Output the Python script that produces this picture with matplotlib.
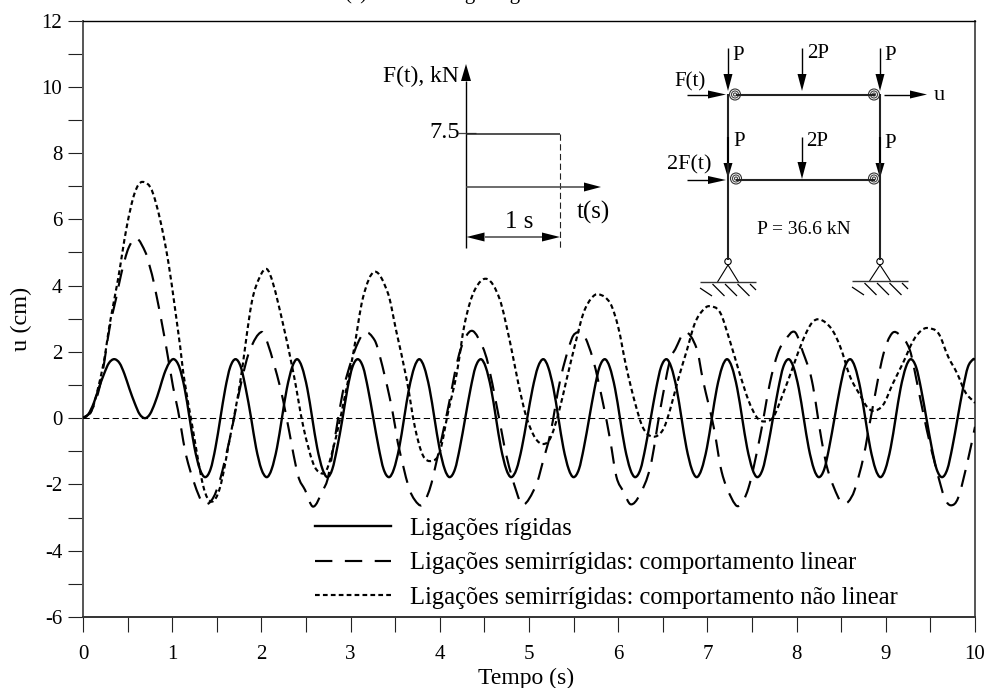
import matplotlib
matplotlib.use("Agg")
import matplotlib.pyplot as plt
from matplotlib.lines import Line2D
from matplotlib.patches import Polygon, Circle, PathPatch
from matplotlib.path import Path

plt.rcParams['font.family'] = ['Liberation Serif', 'DejaVu Serif']
plt.rcParams['axes.unicode_minus'] = False
plt.rcParams['lines.scale_dashes'] = False

x_label = "Tempo (s)"
y_label = "u (cm)"
legend_labels = ["Ligações rígidas",
                 "Ligações semirrígidas: comportamento linear",
                 "Ligações semirrígidas: comportamento não linear"]

t_rigid = [0, 0.06, 0.12, 0.175, 0.235, 0.29, 0.35, 0.41, 0.465, 0.52, 0.58, 0.635, 0.695,
           0.75, 0.805, 0.86, 0.91, 0.965, 1.02,
           1.08, 1.14, 1.195, 1.25, 1.31, 1.37,
           1.43, 1.485, 1.54, 1.595, 1.65, 1.71,
           1.77, 1.825, 1.885, 1.94, 2.0, 2.06,
           2.115, 2.175, 2.23, 2.285, 2.345, 2.40,
           2.455, 2.515, 2.57, 2.625, 2.685, 2.74,
           2.795, 2.85, 2.91, 2.965, 3.02, 3.08,
           3.14, 3.195, 3.255, 3.315, 3.37, 3.43,
           3.485, 3.545, 3.60, 3.655, 3.715, 3.77,
           3.825, 3.885, 3.94, 3.995, 4.055, 4.11,
           4.17, 4.225, 4.285, 4.345, 4.40, 4.46,
           4.515, 4.575, 4.63, 4.685, 4.745, 4.80,
           4.86, 4.92, 4.98, 5.04, 5.10, 5.16,
           5.215, 5.275, 5.33, 5.385, 5.445, 5.50,
           5.56, 5.615, 5.675, 5.735, 5.79, 5.85,
           5.905, 5.965, 6.02, 6.075, 6.135, 6.19,
           6.25, 6.305, 6.365, 6.425, 6.48, 6.54,
           6.595, 6.655, 6.71, 6.765, 6.825, 6.88,
           6.935, 6.995, 7.05, 7.105, 7.165, 7.22,
           7.275, 7.335, 7.39, 7.445, 7.505, 7.56,
           7.62, 7.675, 7.735, 7.795, 7.85, 7.91,
           7.965, 8.025, 8.08, 8.135, 8.195, 8.25,
           8.31, 8.365, 8.425, 8.485, 8.54, 8.60,
           8.655, 8.715, 8.77, 8.825, 8.885, 8.94,
           8.995, 9.055, 9.11, 9.165, 9.225, 9.28,
           9.34, 9.395, 9.455, 9.515, 9.57, 9.63,
           9.69, 9.745, 9.805, 9.865, 9.92, 9.98, 10]
u_rigid = [0, 0.12, 0.45, 0.89, 1.33, 1.66, 1.78, 1.66, 1.33, 0.89, 0.45, 0.12, 0,
           0.12, 0.45, 0.89, 1.33, 1.66, 1.78,
           1.54, 0.89, 0, -0.89, -1.54, -1.78,  # 1.37
           -1.54, -0.89, 0, 0.89, 1.54, 1.78,  # 1.71
           1.54, 0.89, 0, -0.89, -1.54, -1.78,  # 2.06
           -1.54, -0.89, 0, 0.89, 1.54, 1.78,  # 2.40
           1.54, 0.89, 0, -0.89, -1.54, -1.78,  # 2.74
           -1.54, -0.89, 0, 0.89, 1.54, 1.78,  # 3.08
           1.54, 0.89, 0, -0.89, -1.54, -1.78,  # 3.43
           -1.54, -0.89, 0, 0.89, 1.54, 1.78,  # 3.77
           1.54, 0.89, 0, -0.89, -1.54, -1.78,  # 4.11
           -1.54, -0.89, 0, 0.89, 1.54, 1.78,  # 4.46
           1.54, 0.89, 0, -0.89, -1.54, -1.78,  # 4.80
           -1.54, -0.89, 0, 0.89, 1.54, 1.78,  # 5.16
           1.54, 0.89, 0, -0.89, -1.54, -1.78,  # 5.50
           -1.54, -0.89, 0, 0.89, 1.54, 1.78,  # 5.85
           1.54, 0.89, 0, -0.89, -1.54, -1.78,  # 6.19
           -1.54, -0.89, 0, 0.89, 1.54, 1.78,  # 6.54
           1.54, 0.89, 0, -0.89, -1.54, -1.78,  # 6.88
           -1.54, -0.89, 0, 0.89, 1.54, 1.78,  # 7.22
           1.54, 0.89, 0, -0.89, -1.54, -1.78,  # 7.56
           -1.54, -0.89, 0, 0.89, 1.54, 1.78,  # 7.91
           1.54, 0.89, 0, -0.89, -1.54, -1.78,  # 8.25
           -1.54, -0.89, 0, 0.89, 1.54, 1.78,  # 8.60
           1.54, 0.89, 0, -0.89, -1.54, -1.78,  # 8.94
           -1.54, -0.89, 0, 0.89, 1.54, 1.78,  # 9.28
           1.54, 0.89, 0, -0.89, -1.54, -1.78,  # 9.63
           -1.54, -0.89, 0, 0.89, 1.54, 1.78, 1.77]  # 9.98, 10

t_linear = [0, 0.1, 0.2, 0.3, 0.37, 0.43, 0.51, 0.60, 0.706, 0.75, 0.796, 0.92, 1.01, 1.065, 1.16, 1.31, 1.38,
            1.46, 1.535, 1.65, 1.78, 1.87, 2.0, 2.07, 2.21, 2.28, 2.41, 2.49, 2.58, 2.69, 2.75, 2.91, 3.01,
            3.08, 3.16, 3.27, 3.33, 3.44, 3.5, 3.53, 3.65, 3.72, 3.8, 3.87, 3.92, 4.08, 4.2, 4.28, 4.37,
            4.48, 4.54, 4.64, 4.75, 4.86, 4.93, 5.08, 5.16, 5.24, 5.35, 5.48, 5.55, 5.61, 5.72, 5.83, 5.91,
            5.98, 6.06, 6.14, 6.24, 6.36, 6.47, 6.58, 6.64, 6.75, 6.88, 6.95, 7.07, 7.16, 7.27, 7.35, 7.46,
            7.59, 7.7, 7.79, 7.87, 7.98, 8.07, 8.17, 8.28, 8.35, 8.47, 8.52, 8.58, 8.65, 8.75, 8.84, 8.97,
            9.07, 9.16, 9.27, 9.36, 9.46, 9.57, 9.66, 9.73, 9.81, 9.92, 10]
u_linear = [0, 0.25, 1.1, 2.75, 3.6, 4.37, 5.13, 5.43, 4.97, 4.56, 4.07, 2.35, 0.94, 0.24, -1.17, -2.41, -2.6,
            -2.4, -1.87, -0.56, 1.15, 2.05, 2.6, 2.26, 0.94, 0.04, -1.72, -2.17, -2.67, -2.17, -1.75, 0.75, 1.75,
            2.26, 2.6, 2.35, 1.85, 0.6, -0.26, -0.75, -2.07, -2.47, -2.63, -2.27, -1.82, 0.14, 1.75, 2.4, 2.63,
            2.15, 1.65, 0.34, -1.17, -2.22, -2.63, -2.02, -1.27, -0.46, 1.15, 2.4, 2.6, 2.55, 1.75, 0.45, -0.66,
            -1.77, -2.22, -2.6, -2.32, -1.47, 0.24, 1.75, 2.08, 2.6, 2.1, 1.15, -0.26, -1.62, -2.41, -2.65, -2.11,
            -0.56, 1.05, 1.96, 2.35, 2.6, 2.0, 1.15, -0.66, -1.57, -2.41, -2.57, -2.52, -2.17, -1.17, 0.14, 1.9,
            2.56, 2.5, 2.05, 0.94, -0.36, -1.57, -2.41, -2.63, -2.41, -1.27, -0.26]

t_nonlinear = [0, 0.1, 0.23, 0.30, 0.39, 0.49, 0.58, 0.665, 0.785, 0.94, 1.09, 1.125, 1.22, 1.35, 1.44, 1.535, 1.65,
               1.76, 1.89, 1.98, 2.06, 2.13, 2.24, 2.36, 2.47, 2.58, 2.66, 2.73, 2.82, 2.92, 3.03, 3.14, 3.27,
               3.42, 3.51, 3.63, 3.72, 3.81, 3.91, 4.0, 4.09, 4.19, 4.28, 4.39, 4.53, 4.67, 4.79, 4.88, 4.97,
               5.07, 5.16, 5.24, 5.33, 5.42, 5.52, 5.61, 5.7, 5.78, 5.91, 6.0, 6.09, 6.19, 6.28, 6.39, 6.5,
               6.58, 6.67, 6.77, 6.86, 6.95, 7.02, 7.14, 7.25, 7.35, 7.46, 7.55, 7.63, 7.74, 7.85, 7.96, 8.07,
               8.17, 8.26, 8.39, 8.49, 8.6, 8.71, 8.79, 8.86, 8.97, 9.08, 9.19, 9.31, 9.4, 9.47, 9.59, 9.7,
               9.8, 9.89, 10]
u_nonlinear = [0, 0.25, 1.65, 2.85, 4.15, 5.77, 6.8, 7.13, 6.78, 4.97, 2.15, 1.35, -0.16, -2.07, -2.52, -2.1, -0.56,
               1.05, 3.47, 4.25, 4.5, 4.07, 2.87, 1.35, -0.26, -1.36, -1.65, -1.57, -0.75, 0.45, 1.96, 3.65, 4.42,
               3.76, 2.65, 1.15, -0.26, -1.12, -1.29, -1.02, 0.14, 1.35, 2.87, 3.86, 4.2, 3.6, 2.26, 1.05, 0.04,
               -0.6, -0.78, -0.6, 0.14, 1.15, 2.26, 3.17, 3.62, 3.74, 3.47, 2.75, 1.55, 0.45, -0.3, -0.56, -0.36,
               0.24, 1.15, 2.05, 2.87, 3.26, 3.38, 3.2, 2.35, 1.45, 0.54, 0.04, -0.1, 0.04, 0.75, 1.55, 2.35,
               2.87, 2.98, 2.7, 2.15, 1.25, 0.7, 0.34, 0.22, 0.4, 1.05, 1.65, 2.35, 2.65, 2.72, 2.56, 1.85,
               1.35, 0.79, 0.46]

W, H = 987, 688
fig = plt.figure(figsize=(W / 100, H / 100), dpi=100, facecolor='white')
L, R, T, B = 83, 975, 20.5, 617
ax = fig.add_axes([L / W, 1 - B / H, (R - L) / W, (B - T) / H])
ax.set_xlim(0, 10)
ax.set_ylim(-6, 12)

FS = 15
LW_SOLID = 1.7
LW_DASH = 1.55
DASH_LONG = (0, (12.5, 7.5))
DASH_SHORT = (0, (3.4, 2.3))


def smooth_curve(ts, us, **kw):
    """Draw the read values as one cubic Bezier path through every read value."""
    n = len(ts)
    slopes = []
    for i in range(n):
        a, b = max(i - 1, 0), min(i + 1, n - 1)
        slopes.append((us[b] - us[a]) / (ts[b] - ts[a]))
    verts = [(ts[0], us[0])]
    codes = [Path.MOVETO]
    for i in range(n - 1):
        h = (ts[i + 1] - ts[i]) / 3
        verts += [(ts[i] + h, us[i] + slopes[i] * h),
                  (ts[i + 1] - h, us[i + 1] - slopes[i + 1] * h),
                  (ts[i + 1], us[i + 1])]
        codes += [Path.CURVE4] * 3
    patch = PathPatch(Path(verts, codes), fc='none', ec='black', capstyle='butt', joinstyle='round', **kw)
    ax.add_patch(patch)


ax.axhline(0, color='black', lw=0.75, ls=(0, (4.5, 2.5)), zorder=1)
smooth_curve(t_rigid, u_rigid, lw=LW_SOLID, zorder=3)
smooth_curve(t_linear, u_linear, lw=LW_DASH, ls=DASH_LONG, zorder=3)
smooth_curve(t_nonlinear, u_nonlinear, lw=LW_DASH, ls=DASH_SHORT, zorder=3)

ax.set_xticks(range(0, 11))
ax.set_xticks([i + 0.5 for i in range(10)], minor=True)
ax.set_yticks(range(-6, 13, 2))
ax.set_yticks(range(-5, 12, 2), minor=True)
ax.tick_params(axis='both', which='both', direction='out', length=11, width=0.8, color='#222222')
ax.tick_params(axis='x', which='major', labelsize=FS, pad=9)
ax.tick_params(axis='y', which='major', labelsize=FS, pad=4)
for s in ax.spines.values():
    s.set_linewidth(1.0)
ax.spines['left'].set_color('#555555')
ax.spines['left'].set_linewidth(1.4)
ax.spines['right'].set_color('#555555')
ax.spines['right'].set_linewidth(1.4)
ax.spines['bottom'].set_color('#333333')
ax.spines['bottom'].set_linewidth(1.4)
ax.set_xlabel(x_label, fontsize=17, labelpad=3, x=(526 - L) / (R - L))
ax.set_ylabel(y_label, fontsize=17.5, labelpad=7)

handles = [Line2D([], [], color='black', lw=LW_SOLID),
           Line2D([], [], color='black', lw=LW_DASH, ls=(0, (12.5, 9))),
           Line2D([], [], color='black', lw=LW_DASH, ls=DASH_SHORT)]
leg = ax.legend(handles, legend_labels, loc='lower left',
                bbox_to_anchor=((315 - L) / (R - L), (B - 609) / (B - T)),
                frameon=False, fontsize=17.7, handlelength=3.1, handletextpad=0.75,
                labelspacing=0.5, borderaxespad=0, borderpad=0)

# overlay in pixel coordinates for the two schematics
ov = fig.add_axes([0, 0, 1, 1], zorder=5)
ov.set_xlim(0, W)
ov.set_ylim(H, 0)
ov.axis('off')
ov.patch.set_alpha(0)


def line(x, y, lw=1.0, color='black', ls='-'):
    ov.plot(x, y, color=color, lw=lw, ls=ls, solid_capstyle='butt')


def arrow(x0, y0, x1, y1, hl=16, hw=5, lw=1.0, color='black'):
    dx, dy = x1 - x0, y1 - y0
    n = (dx * dx + dy * dy) ** 0.5
    ux, uy = dx / n, dy / n
    bx, by = x1 - ux * hl, y1 - uy * hl
    line([x0, bx], [y0, by], lw=lw, color=color)
    ov.add_patch(Polygon([(x1, y1), (bx - uy * hw, by + ux * hw), (bx + uy * hw, by - ux * hw)],
                         closed=True, fc='black', ec='none'))


def label(x, y, s, ha='left', fs=FS):
    ov.text(x, y, s, ha=ha, va='center', fontsize=fs, color='black')


def spiral(x, y):
    for r, c in ((5.5, '#333333'), (3.5, '#444444'), (1.5, '#444444')):
        ov.add_patch(Circle((x, y), r, fc='none', ec=c, lw=0.8))


def support(x, y_apex, y_base, x0, x1):
    ov.add_patch(Circle((x, y_apex - 3.5), 3.2, fc='white', ec='black', lw=0.8))
    line([x - 10.5, x, x + 10.5], [y_base, y_apex, y_base], lw=0.8)
    line([x0, x1], [y_base, y_base], lw=1.0, color='#333333')
    hx = x0
    while hx < x1 - 1:
        xe = min(hx + 12, x1)
        line([hx, xe], [y_base + 2 + (0 if hx > x0 else 4), y_base + 2 + (xe - hx)], lw=0.9)
        hx += 12.5


# load history inset
arrow(466, 248, 466, 64, hl=17, hw=5)
line([458, 476], [133, 133], lw=0.9, color='#444444')
line([466, 560], [133.5, 133.5], lw=1.1, color='#222222')
line([560, 560], [133.5, 248], lw=0.8, ls=(0, (4.5, 2.5)), color='#222222')
arrow(466, 187, 601, 187, hl=17, hw=4.5, lw=1.1, color='#444444')
arrow(500, 237, 466.5, 237, hl=18, hw=4.5, lw=1.1, color='#444444')
arrow(500, 237, 560, 237, hl=18, hw=4.5, lw=1.1, color='#444444')
label(383, 76, "F(t), kN", fs=17)
label(429, 133, "7.5", fs=17.5)
label(519, 222, "1 s", ha='center', fs=18)
label(577, 212, "t(s)", fs=18)

# frame schematic
line([728, 728], [94, 260], lw=1.5, color='#222222')
line([880, 880], [94, 260], lw=1.5, color='#222222')
line([736, 875], [94.5, 94.5], lw=1.5, color='#222222')
line([736, 875], [179.5, 179.5], lw=1.5, color='#222222')
for px, py in ((735, 94.5), (874, 94.5), (736, 178.5), (874, 178.5)):
    spiral(px, py)
for ax_x in (728, 802, 880):
    arrow(ax_x, 48, ax_x, 91, hl=17, hw=4.5)
arrow(802, 137, 802, 179, hl=17, hw=4.5)
arrow(728, 137, 728, 178, hl=15, hw=4.5, lw=1.5)
arrow(880, 137, 880, 178, hl=15, hw=4.5, lw=1.5)
arrow(687, 94.5, 726, 94.5, hl=18, hw=4)
arrow(687, 180, 726, 180, hl=18, hw=4)
arrow(884, 94.5, 927, 94.5, hl=17, hw=4)
label(732, 55, "P", fs=15)
label(807, 54, "2P", fs=15)
label(884, 55, "P", fs=15)
label(733, 142, "P", fs=15)
label(806, 142, "2P", fs=15)
label(884, 143, "P", fs=15)
label(674, 82, "F(t)", fs=15)
label(667, 165, "2F(t)", fs=16)
label(934, 95, "u", fs=16)
label(757, 230, "P = 36.6 kN", fs=14)
support(728, 265, 282, 700, 756)
support(880, 265, 281, 852, 908)

# heading cut off by the top edge of the picture, as in the reference
ov.text(344, -1, "(a)", ha='left', va='baseline', fontsize=FS)
ov.text(435, -1, "Carga degrau", ha='left', va='baseline', fontsize=FS)

fig.savefig('out.png', dpi=100)
